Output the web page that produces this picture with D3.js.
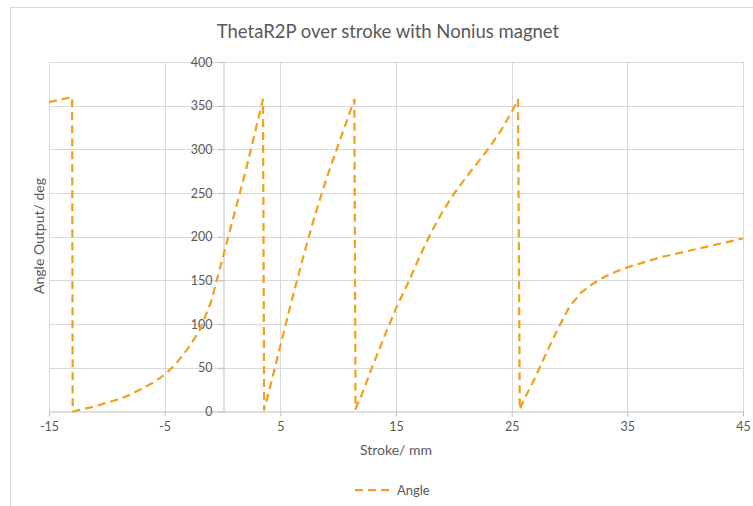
<!DOCTYPE html>
<html>
<head>
<meta charset="utf-8">
<script src="https://cdn.jsdelivr.net/npm/d3@7"></script>
<style>
  body { margin: 0; background: #fff; }
  text { font-family: Lato, "Open Sans", sans-serif; fill: #595959; }
</style>
</head>
<body>
<div id="chart"></div>
<script>
// stroke in mm, angle output in deg
var stroke = [-15, -13, -12.95, -12, -11, -10, -9, -8, -7, -6, -5, -4, -3, -2, -1, 0, 1, 2, 3, 3.5,
  3.6, 4, 5, 6, 7, 8, 9, 10, 11, 11.4,
  11.5, 12, 13, 14, 15, 16, 17, 18, 19, 20, 21, 22, 23, 24, 25, 25.55,
  25.7, 26, 27, 28, 29, 30, 31, 32, 33, 34, 35, 36, 37, 38, 39, 40, 41, 42, 43, 44, 45];
var angle = [354, 360, 0, 3, 6, 10, 14, 19, 26, 33, 42, 55, 72, 92, 125, 175, 225, 275, 330, 357,
  2, 22, 75, 128, 178, 225, 267, 305, 342, 357,
  3, 18, 53, 86, 118, 146, 176, 204, 228, 249, 267, 284, 301, 320, 343, 357,
  2, 12, 38, 67, 95, 120, 136, 146, 154, 160, 165, 169, 173, 177, 180, 183, 186, 189, 192, 195, 198];
var xTicks = [-15, -5, 5, 15, 25, 35, 45];
var yTicks = [0, 50, 100, 150, 200, 250, 300, 350, 400];

var W = 753, H = 506;
var plotLeft = 49, plotRight = 743, plotTop = 62, plotBottom = 411.5;
var orange = "#f3a01d";

var svg = d3.select("#chart").append("svg")
    .attr("width", W)
    .attr("height", H);

// outer chart frame
svg.append("rect")
    .attr("x", 10.5).attr("y", 7.5)
    .attr("width", 760).attr("height", 520)
    .attr("fill", "none")
    .attr("stroke", "#d9d9d9");

var x = d3.scaleLinear().domain([-15, 45]).range([plotLeft, plotRight]);
var y = d3.scaleLinear().domain([0, 400]).range([plotBottom, plotTop]);

// grid
svg.append("g")
    .selectAll("line")
    .data(yTicks.filter(d => d > 0))
    .join("line")
    .attr("x1", plotLeft).attr("x2", plotRight)
    .attr("y1", d => Math.round(y(d)) + 0.5)
    .attr("y2", d => Math.round(y(d)) + 0.5)
    .attr("stroke", "#d9d9d9");

svg.append("g")
    .selectAll("line")
    .data(xTicks)
    .join("line")
    .attr("x1", d => Math.round(x(d)) + 0.5)
    .attr("x2", d => Math.round(x(d)) + 0.5)
    .attr("y1", plotTop).attr("y2", plotBottom)
    .attr("stroke", "#d9d9d9");

// x axis at y = 0
var xAxis = svg.append("g")
    .attr("transform", "translate(0," + (Math.round(plotBottom) - 0.5) + ")")
    .call(d3.axisBottom(x).tickValues(xTicks).tickFormat(d => String(d))
      .tickSize(5).tickSizeOuter(0).tickPadding(6));
xAxis.select(".domain").attr("stroke", "#bfbfbf");
xAxis.selectAll(".tick line").attr("stroke", "#bfbfbf");
xAxis.selectAll("text").attr("font-size", 12.5).attr("fill", "#595959")
    .style("font-family", "Lato, sans-serif");

// y axis at x = 0
var yAxis = svg.append("g")
    .attr("transform", "translate(" + (Math.round(x(0)) + 0.5) + ",0)")
    .call(d3.axisLeft(y).tickValues(yTicks).tickFormat(d => String(d))
      .tickSize(5).tickSizeOuter(0).tickPadding(6));
yAxis.select(".domain").attr("stroke", "#bfbfbf");
yAxis.selectAll(".tick line").attr("stroke", "#bfbfbf");
yAxis.selectAll("text").attr("font-size", 12.5).attr("fill", "#595959")
    .style("font-family", "Lato, sans-serif");

// series
var pts = stroke.map((s, i) => [s, angle[i]]);
var line = d3.line().x(d => x(d[0])).y(d => y(d[1]));

svg.append("path")
    .datum(pts)
    .attr("d", line)
    .attr("fill", "none")
    .attr("stroke", orange)
    .attr("stroke-width", 2.25)
    .attr("stroke-dasharray", "8,5")
    .attr("stroke-linejoin", "round");

// titles
svg.append("text")
    .attr("x", 388).attr("y", 38)
    .attr("text-anchor", "middle")
    .attr("font-size", 18.5)
    .text("ThetaR2P over stroke with Nonius magnet");

svg.append("text")
    .attr("x", 396).attr("y", 455)
    .attr("text-anchor", "middle")
    .attr("font-size", 14)
    .text("Stroke/ mm");

svg.append("text")
    .attr("transform", "translate(44,236) rotate(-90)")
    .attr("text-anchor", "middle")
    .attr("font-size", 14)
    .text("Angle Output/ deg");

// legend
var legend = svg.append("g").attr("transform", "translate(355,490)");
legend.append("line")
    .attr("x1", 0).attr("x2", 37)
    .attr("stroke", orange)
    .attr("stroke-width", 2.25)
    .attr("stroke-dasharray", "8,5");
legend.append("text")
    .attr("x", 42).attr("y", 4.5)
    .attr("font-size", 13)
    .text("Angle");
</script>
</body>
</html>
